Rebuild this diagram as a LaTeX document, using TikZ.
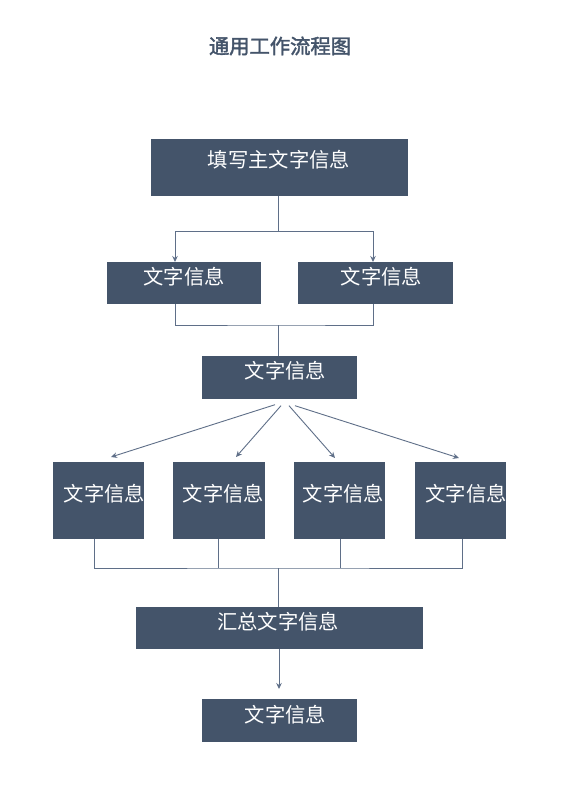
\documentclass[tikz,border=0pt]{standalone}
\usepackage{fontspec}
\newfontfamily\cjk{Noto Sans CJK SC}
\newfontfamily\cjkb{Noto Sans CJK SC}[FakeBold=2]
\usetikzlibrary{arrows.meta,calc}
\definecolor{boxc}{HTML}{44546A}
\definecolor{linec}{HTML}{5F6F88}
\tikzset{
  box/.style={draw=none,fill=boxc,inner sep=0pt},
  lbl/.style={text=white,font=\cjk\fontsize{20.3}{20.3}\selectfont,inner sep=0pt},
  ln/.style={draw=linec,line width=0.9pt},
  arr/.style={ln,-{Stealth[length=6pt,width=5.5pt]}}
}
\begin{document}
\begin{tikzpicture}[x=1pt,y=-1pt]
\useasboundingbox[fill=white] (0,0) rectangle (560,792);
\node[text=boxc,font=\cjkb\fontsize{20.3}{20.3}\selectfont] (title) at (280,46) {通用工作流程图};
% boxes
\node[box,minimum width=257,minimum height=57,label={[lbl,xshift=-0.5,yshift=7.5]center:填写主文字信息}] (top) at (279.5,167.5) {};
\node[box,minimum width=154,minimum height=42,label={[lbl,xshift=0,yshift=6]center:文字信息}] (L) at (184,283) {};
\node[box,minimum width=155,minimum height=42,label={[lbl,xshift=6,yshift=6]center:文字信息}] (R) at (375.5,283) {};
\node[box,minimum width=155,minimum height=43,label={[lbl,xshift=6,yshift=7]center:文字信息}] (M) at (279.5,377.5) {};
\node[box,minimum width=91,minimum height=77,label={[lbl,xshift=6,yshift=6.5]center:文字信息}] (A1) at (98.5,500.5) {};
\node[box,minimum width=92,minimum height=77,label={[lbl,xshift=4.5,yshift=6.5]center:文字信息}] (A2) at (219,500.5) {};
\node[box,minimum width=91,minimum height=77,label={[lbl,xshift=4,yshift=6.5]center:文字信息}] (A3) at (339.5,500.5) {};
\node[box,minimum width=91,minimum height=77,label={[lbl,xshift=5.5,yshift=6.5]center:文字信息}] (A4) at (460.5,500.5) {};
\node[box,minimum width=287,minimum height=42,label={[lbl,xshift=-1.5,yshift=6]center:汇总文字信息}] (S) at (279.5,628) {};
\node[box,minimum width=155,minimum height=43,label={[lbl,xshift=6,yshift=5.5]center:文字信息}] (F) at (279.5,720.5) {};
% junction coordinates
\coordinate (j1) at (278,231);
\coordinate (tl) at (175,262);
\coordinate (tr) at (373,262);
\coordinate (j2) at (278,325);
\coordinate (bl) at (175,304);
\coordinate (br) at (373,304);
\coordinate (j3) at (278,568);
\coordinate (f1) at (111,457);
\coordinate (f2) at (236,457);
\coordinate (f3) at (335,458);
\coordinate (f4) at (459,458);
\coordinate (g1) at (94,539);
\coordinate (g2) at (218,539);
\coordinate (g3) at (340,539);
\coordinate (g4) at (462,539);
\coordinate (fe) at (279,689);
% connectors
\draw[ln] (top.south -| j1) -- (j1);
\draw[arr] (j1) -| (tl);
\draw[arr] (j1) -| (tr);
\draw[ln] (bl) |- (j2) -| (br);
\draw[ln] (j2) -- (M.north -| j2);
\draw[arr] ($(M.south)+(-4.5,5.5)$) -- (f1);
\draw[arr] ($(M.south)+(1.5,6.5)$) -- (f2);
\draw[arr] ($(M.south)+(9.5,6.5)$) -- (f3);
\draw[arr] ($(M.south)+(15.5,6.5)$) -- (f4);
\draw[ln] (g1) |- (j3) -| (g4);
\draw[ln] (g2) -- (g2 |- j3);
\draw[ln] (g3) -- (g3 |- j3);
\draw[ln] (j3) -- (S.north -| j3);
\draw[arr] (S.south -| fe) -- (fe);
\end{tikzpicture}
\end{document}
